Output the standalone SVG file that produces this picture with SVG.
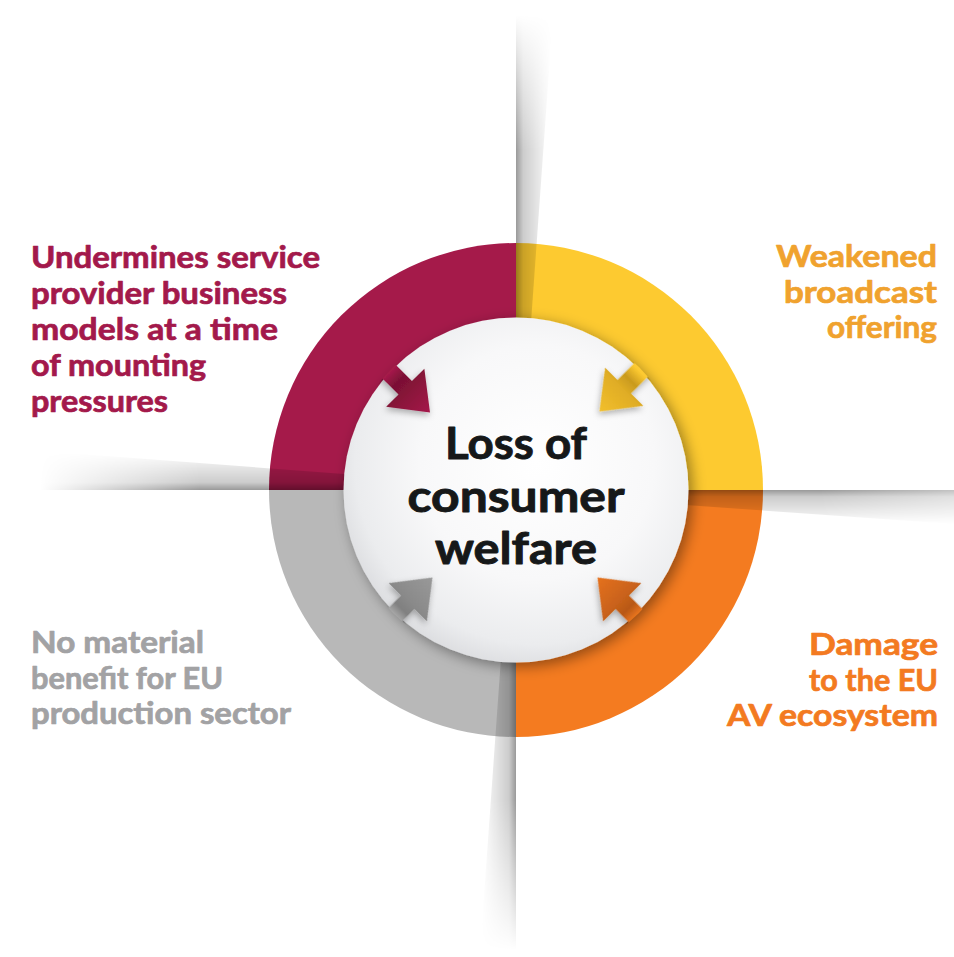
<svg xmlns="http://www.w3.org/2000/svg" width="954" height="957" viewBox="0 0 954 957">
<defs>
<style>
.lbl{font-family:Lato,"Open Sans","Liberation Sans",sans-serif;font-weight:700;font-size:29.5px;stroke-width:0.7px;stroke-linejoin:round;}
.ctr{font-family:Lato,"Open Sans","Liberation Sans",sans-serif;font-weight:700;font-size:43px;fill:#161819;stroke:#161819;stroke-width:0.9px;stroke-linejoin:round;text-anchor:middle;}
.end{text-anchor:end;}
</style>
<radialGradient id="gCircle" cx="0.56" cy="0.42" r="0.62">
<stop offset="0" stop-color="#ffffff"/>
<stop offset="0.55" stop-color="#f8f8f9"/>
<stop offset="0.85" stop-color="#ebecee"/>
<stop offset="1" stop-color="#d9dadd"/>
</radialGradient>
<filter id="cShadow" x="-20%" y="-20%" width="140%" height="140%">
<feDropShadow dx="4" dy="4" stdDeviation="7" flood-color="#000" flood-opacity="0.4"/>
</filter>
<filter id="aShadow" x="-30%" y="-30%" width="160%" height="160%">
<feDropShadow dx="-1" dy="3" stdDeviation="3" flood-color="#000" flood-opacity="0.3"/>
</filter>
<clipPath id="innerClip"><circle cx="516" cy="490" r="174"/></clipPath>
<linearGradient id="aCrimson" gradientUnits="userSpaceOnUse" x1="-80" y1="0" x2="0" y2="0">
<stop offset="0" stop-color="#A51A4A"/><stop offset="0.29" stop-color="#A51A4A"/>
<stop offset="0.45" stop-color="#7a1035"/><stop offset="0.6" stop-color="#861338"/><stop offset="1" stop-color="#A51A4A"/>
</linearGradient>
<linearGradient id="aYellow" gradientUnits="userSpaceOnUse" x1="-80" y1="0" x2="0" y2="0">
<stop offset="0" stop-color="#FDCA30"/><stop offset="0.29" stop-color="#FDCA30"/>
<stop offset="0.45" stop-color="#c99a1e"/><stop offset="0.6" stop-color="#e0ad25"/><stop offset="1" stop-color="#F2BF2C"/>
</linearGradient>
<linearGradient id="aGray" gradientUnits="userSpaceOnUse" x1="-80" y1="0" x2="0" y2="0">
<stop offset="0" stop-color="#B8B8B8"/><stop offset="0.29" stop-color="#B8B8B8"/>
<stop offset="0.45" stop-color="#808080"/><stop offset="0.6" stop-color="#8a8a8a"/><stop offset="1" stop-color="#999999"/>
</linearGradient>
<linearGradient id="aOrange" gradientUnits="userSpaceOnUse" x1="-80" y1="0" x2="0" y2="0">
<stop offset="0" stop-color="#F47B20"/><stop offset="0.29" stop-color="#F47B20"/>
<stop offset="0.45" stop-color="#b85816"/><stop offset="0.6" stop-color="#c9621a"/><stop offset="1" stop-color="#E5711D"/>
</linearGradient>
<linearGradient id="sTop" gradientUnits="userSpaceOnUse" x1="516" y1="0" x2="552" y2="0">
<stop offset="0" stop-color="#000" stop-opacity="0.4"/><stop offset="0.2" stop-color="#000" stop-opacity="0.2"/><stop offset="1" stop-color="#000" stop-opacity="0"/>
</linearGradient>
<linearGradient id="sLeft" gradientUnits="userSpaceOnUse" x1="0" y1="490" x2="0" y2="452">
<stop offset="0" stop-color="#000" stop-opacity="0.4"/><stop offset="0.2" stop-color="#000" stop-opacity="0.2"/><stop offset="1" stop-color="#000" stop-opacity="0"/>
</linearGradient>
<linearGradient id="sRight" gradientUnits="userSpaceOnUse" x1="0" y1="490" x2="0" y2="524">
<stop offset="0" stop-color="#000" stop-opacity="0.4"/><stop offset="0.2" stop-color="#000" stop-opacity="0.2"/><stop offset="1" stop-color="#000" stop-opacity="0"/>
</linearGradient>
<linearGradient id="sBottom" gradientUnits="userSpaceOnUse" x1="516" y1="0" x2="481" y2="0">
<stop offset="0" stop-color="#000" stop-opacity="0.4"/><stop offset="0.2" stop-color="#000" stop-opacity="0.2"/><stop offset="1" stop-color="#000" stop-opacity="0"/>
</linearGradient>
<linearGradient id="fT" gradientUnits="userSpaceOnUse" x1="0" y1="15" x2="0" y2="150"><stop offset="0" stop-color="#000"/><stop offset="1" stop-color="#fff"/></linearGradient>
<linearGradient id="fL" gradientUnits="userSpaceOnUse" x1="40" y1="0" x2="200" y2="0"><stop offset="0" stop-color="#000"/><stop offset="1" stop-color="#fff"/></linearGradient>
<linearGradient id="fB" gradientUnits="userSpaceOnUse" x1="0" y1="950" x2="0" y2="800"><stop offset="0" stop-color="#000"/><stop offset="1" stop-color="#fff"/></linearGradient>
<linearGradient id="fR" gradientUnits="userSpaceOnUse" x1="954" y1="0" x2="820" y2="0"><stop offset="0" stop-color="#999"/><stop offset="1" stop-color="#fff"/></linearGradient>
<mask id="mT" maskUnits="userSpaceOnUse" x="0" y="0" width="954" height="957"><rect width="954" height="957" fill="url(#fT)"/></mask>
<mask id="mL" maskUnits="userSpaceOnUse" x="0" y="0" width="954" height="957"><rect width="954" height="957" fill="url(#fL)"/></mask>
<mask id="mB" maskUnits="userSpaceOnUse" x="0" y="0" width="954" height="957"><rect width="954" height="957" fill="url(#fB)"/></mask>
<mask id="mR" maskUnits="userSpaceOnUse" x="0" y="0" width="954" height="957"><rect width="954" height="957" fill="url(#fR)"/></mask>
<path id="arrow" d="M0,0 L-35,-27 L-35,-9.5 L-80,-9.5 L-80,9.5 L-35,9.5 L-35,27 Z"/>
</defs>
<rect width="954" height="957" fill="#ffffff"/>

<g id="node-undermines">
<path d="M516,490 L269,490 A247,247 0 0 1 516,243 Z" fill="#A51A4A"/>
<g class="lbl" fill="#A3194B" stroke="#A3194B">
<text x="31" y="268" textLength="289" lengthAdjust="spacingAndGlyphs">Undermines service</text>
<text x="31" y="304" textLength="256" lengthAdjust="spacingAndGlyphs">provider business</text>
<text x="31" y="340" textLength="247" lengthAdjust="spacingAndGlyphs">models at a time</text>
<text x="31" y="376" textLength="175" lengthAdjust="spacingAndGlyphs">of mounting</text>
<text x="31" y="412" textLength="137" lengthAdjust="spacingAndGlyphs">pressures</text>
</g>
</g>

<g id="node-weakened">
<path d="M516,490 L516,243 A247,247 0 0 1 763,490 Z" fill="#FDCA30"/>
<g class="lbl end" fill="#F0A22E" stroke="#F0A22E">
<text x="937" y="267" textLength="161" lengthAdjust="spacingAndGlyphs">Weakened</text>
<text x="937" y="303" textLength="153" lengthAdjust="spacingAndGlyphs">broadcast</text>
<text x="937" y="338" textLength="110" lengthAdjust="spacingAndGlyphs">offering</text>
</g>
</g>

<g id="node-damage">
<path d="M516,490 L763,490 A247,247 0 0 1 516,737 Z" fill="#F47B20"/>
<g class="lbl end" fill="#F37A21" stroke="#F37A21">
<text x="938" y="655" textLength="129" lengthAdjust="spacingAndGlyphs">Damage</text>
<text x="938" y="691" textLength="129" lengthAdjust="spacingAndGlyphs">to the EU</text>
<text x="938" y="726" textLength="211" lengthAdjust="spacingAndGlyphs">AV ecosystem</text>
</g>
</g>

<g id="node-nobenefit">
<path d="M516,490 L516,737 A247,247 0 0 1 269,490 Z" fill="#B8B8B8"/>
<g class="lbl" fill="#A2A2A4" stroke="#A2A2A4">
<text x="31" y="653" textLength="173" lengthAdjust="spacingAndGlyphs">No material</text>
<text x="31" y="689" textLength="192" lengthAdjust="spacingAndGlyphs">benefit for EU</text>
<text x="31" y="724" textLength="260" lengthAdjust="spacingAndGlyphs">production sector</text>
</g>
</g>

<g id="shadows">
<polygon points="516,15 553,15 519,490 516,490" fill="url(#sTop)" mask="url(#mT)"/>
<polygon points="40,451 516,487 516,490 40,490" fill="url(#sLeft)" mask="url(#mL)"/>
<polygon points="516,490 954,490 954,524 516,493" fill="url(#sRight)" mask="url(#mR)"/>
<polygon points="516,490 516,952 480,952 513,490" fill="url(#sBottom)" mask="url(#mB)"/>
</g>

<g id="node-center">
<circle cx="516" cy="490" r="172.5" fill="url(#gCircle)" filter="url(#cShadow)"/>
<text class="ctr" x="516" y="459" textLength="142" lengthAdjust="spacingAndGlyphs">Loss of</text>
<text class="ctr" x="516" y="512" textLength="217" lengthAdjust="spacingAndGlyphs">consumer</text>
<text class="ctr" x="516" y="564" textLength="162" lengthAdjust="spacingAndGlyphs">welfare</text>
</g>

<g id="connectors" clip-path="url(#innerClip)">
<g filter="url(#aShadow)">
<use href="#arrow" transform="translate(430,412.5) rotate(45)" fill="url(#aCrimson)"/>
<use href="#arrow" transform="translate(599.5,411.5) rotate(135)" fill="url(#aYellow)"/>
<use href="#arrow" transform="translate(432.5,577.5) rotate(-45)" fill="url(#aGray)"/>
<use href="#arrow" transform="translate(597.5,577.5) rotate(-135)" fill="url(#aOrange)"/>
</g>
</g>
</svg>
